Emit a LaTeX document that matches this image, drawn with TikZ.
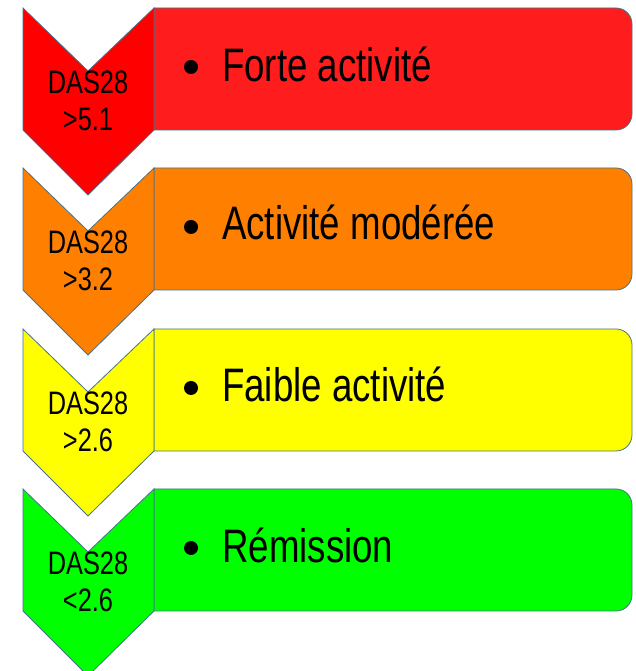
\documentclass[tikz,border=0pt]{standalone}
\usepackage{fontspec}
\setmainfont{Liberation Sans}[FakeStretch=0.78]
\definecolor{edgeblue}{HTML}{45728A}
\definecolor{hotred}{HTML}{FF0000}
\definecolor{boxred}{HTML}{FF1C1C}
\definecolor{midorange}{HTML}{FF8000}
\definecolor{lowyellow}{HTML}{FFFF00}
\definecolor{remgreen}{HTML}{00FF00}
\tikzset{
  shape line/.style={draw=edgeblue, line width=0.8pt},
  score/.style={align=center, inner sep=0pt, font=\fontsize{32.5}{37}\selectfont},
  item/.style={anchor=base west, inner sep=0pt, font=\fontsize{47}{52}\selectfont},
  dot/.style={circle, fill=black, inner sep=0pt, minimum size=14pt}
}
\begin{document}
\begin{tikzpicture}[x=1pt, y=1pt]
        \useasboundingbox (0,0) rectangle (635,671);

        % Boxes
        \draw[shape line, fill=boxred] (154,663) -- (616,663) arc[start angle=90, end angle=0, radius=16pt]
            -- (632,557) arc[start angle=0, end angle=-90, radius=16pt] -- (154,541) -- cycle;
        \draw[shape line, fill=midorange] (154,503) -- (616,503) arc[start angle=90, end angle=0, radius=16pt]
            -- (632,397) arc[start angle=0, end angle=-90, radius=16pt] -- (154,381) -- cycle;
        \draw[shape line, fill=lowyellow] (154,342) -- (616,342) arc[start angle=90, end angle=0, radius=16pt]
            -- (632,236) arc[start angle=0, end angle=-90, radius=16pt] -- (154,220) -- cycle;
        \draw[shape line, fill=remgreen] (154,182) -- (616,182) arc[start angle=90, end angle=0, radius=16pt]
            -- (632,76) arc[start angle=0, end angle=-90, radius=16pt] -- (154,60) -- cycle;

        % Chevrons
        \draw[shape line, fill=hotred] (23,663) -- (88,600) -- (154,663) -- (154,541) -- (88,476) -- (23,541) -- cycle;
        \draw[shape line, fill=midorange] (23,503) -- (88,440) -- (154,503) -- (154,381) -- (88,316) -- (23,381) -- cycle;
        \draw[shape line, fill=lowyellow] (23,342) -- (88,279) -- (154,342) -- (154,220) -- (88,155) -- (23,220) -- cycle;
        \draw[shape line, fill=remgreen] (23,182) -- (88,119) -- (154,182) -- (154,60) -- (88,-5) -- (23,60) -- cycle;

        % Scores
        \node (s1) [score] at (88,570) {DAS28\\>5.1};
        \node (s2) [score] at (88,410) {DAS28\\>3.2};
        \node (s3) [score] at (88,249) {DAS28\\>2.6};
        \node (s4) [score] at (88,89) {DAS28\\<2.6};

        % Items
        \node (d1) [dot] at (191,604) {};
        \node (d2) [dot] at (191,444) {};
        \node (d3) [dot] at (191,283) {};
        \node (d4) [dot] at (191,123) {};
        \node (t1) [item] at (222,589) {Forte activité};
        \node (t2) [item] at (222,431) {Activité modérée};
        \node (t3) [item] at (222,269) {Faible activité};
        \node (t4) [item] at (222,108) {Rémission};
    \end{tikzpicture}
\end{document}
